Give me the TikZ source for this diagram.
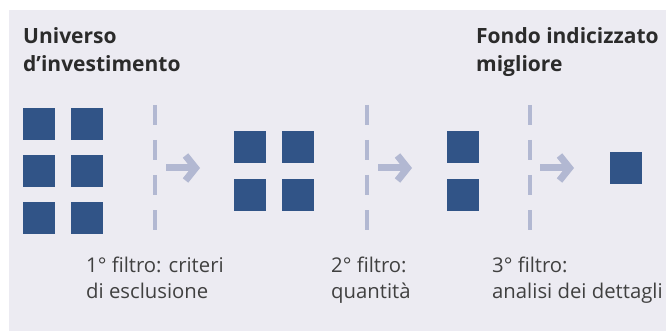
\documentclass[tikz,border=0pt]{standalone}
\usepackage{fontspec}
\setmainfont{Open Sans}
\usetikzlibrary{positioning,arrows.meta}

\definecolor{bgpanel}{HTML}{ECEBF2}
\definecolor{fundblue}{HTML}{315487}
\definecolor{filtergray}{HTML}{B2B8D2}
\definecolor{txtdark}{HTML}{2B2B2B}

\begin{document}
\begin{tikzpicture}[x=1pt, y=-1pt,
    fund/.style={fill=fundblue, minimum size=32pt, inner sep=0pt, outer sep=0pt},
    filterline/.style={filtergray, line width=4.5pt, dash pattern=on 20pt off 15pt},
    passarrow/.style={filtergray, line width=7pt, -{Straight Barb[length=10pt, width=25pt, line width=7pt]}},
    heading/.style={font=\fontsize{21}{28}\selectfont\bfseries, text=txtdark, align=left, anchor=base west, inner sep=0pt},
    caption/.style={font=\fontsize{20.3}{26}\selectfont, text=txtdark!90, align=left, anchor=base west, inner sep=0pt}]

    % --- sfondo ---
    \useasboundingbox (0,0) rectangle (666,331);
    \fill[bgpanel] (9,10) rectangle (666,331);

    % --- titoli (ancorati alla riga inferiore) ---
    \node[heading] (tuniv) at (23,72) {Universo\\d’investimento};
    \node[heading] (tbest) at (476,72) {Fondo indicizzato\\migliore};

    % --- Universo: 3 x 2 fondi ---
    \node[fund] (u11) at (39,124) {};
    \node[fund, right=16pt of u11] (u12) {};
    \node[fund, below=15pt of u11] (u21) {};
    \node[fund, right=16pt of u21] (u22) {};
    \node[fund, below=15pt of u21] (u31) {};
    \node[fund, right=16pt of u31] (u32) {};

    % --- dopo il 1° filtro: 2 x 2 ---
    \node[fund] (s11) at (250,147) {};
    \node[fund, right=16pt of s11] (s12) {};
    \node[fund, below=16pt of s11] (s21) {};
    \node[fund, right=16pt of s21] (s22) {};

    % --- dopo il 2° filtro: 2 x 1 ---
    \node[fund] (q1) at (463,147) {};
    \node[fund, below=16pt of q1] (q2) {};

    % --- dopo il 3° filtro: il migliore ---
    \node[fund] (best) at (626,168) {};

    % --- linee dei filtri ---
    \coordinate (f1top) at (155,105);  \coordinate (f1bot) at (155,232);
    \coordinate (f2top) at (367,105);  \coordinate (f2bot) at (367,232);
    \coordinate (f3top) at (530,105);  \coordinate (f3bot) at (530,232);
    \draw[filterline] (f1top) -- (f1bot);
    \draw[filterline] (f2top) -- (f2bot);
    \draw[filterline] (f3top) -- (f3bot);

    % --- frecce ---
    \coordinate (a1s) at (166,168);  \coordinate (a1e) at (200,168);
    \coordinate (a2s) at (378,168);  \coordinate (a2e) at (412,168);
    \coordinate (a3s) at (540,168);  \coordinate (a3e) at (574,168);
    \draw[passarrow] (a1s) -- (a1e);
    \draw[passarrow] (a2s) -- (a2e);
    \draw[passarrow] (a3s) -- (a3e);

    % --- didascalie (ancorate alla riga inferiore) ---
    \node[caption] (c1) at (86,298) {1° filtro: criteri\\di esclusione};
    \node[caption] (c2) at (331,298) {2° filtro:\\quantità};
    \node[caption] (c3) at (492,298) {3° filtro:\\analisi dei dettagli};

\end{tikzpicture}
\end{document}
